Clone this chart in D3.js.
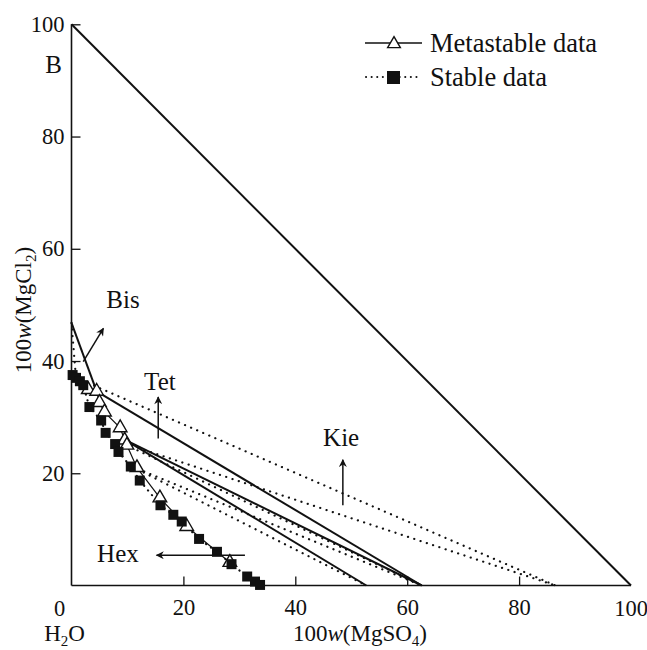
<!DOCTYPE html>
<html>
<head>
<meta charset="utf-8">
<script src="https://cdn.jsdelivr.net/npm/d3@7"></script>
<style>
  body { margin: 0; background: #fff; }
  svg, svg text { font-family: 'Liberation Serif', 'DejaVu Serif', serif; }
</style>
</head>
<body>
<div id="chart"></div>
<script>
// metastable solubility points (open triangles)
var metaX = [3.0, 4.5, 5.0, 5.9, 8.7, 9.5, 9.9, 11.7, 15.8, 20.6, 28.3];
var metaY = [34.9, 34.6, 32.6, 30.9, 28.1, 25.9, 25.0, 21.0, 15.6, 10.5, 4.1];

// stable solubility points (filled squares)
var stableX = [0.2, 0.8, 1.5, 2.1, 3.2, 5.3, 6.1, 7.8, 8.4, 10.6, 12.2, 15.9, 18.2, 19.7, 22.8, 26.0, 28.6, 31.4, 32.8, 33.7];
var stableY = [37.5, 37.0, 36.4, 35.7, 31.8, 29.4, 27.2, 25.2, 23.8, 21.2, 18.7, 14.3, 12.6, 11.4, 8.3, 6.0, 3.8, 1.6, 0.7, 0.1];

// tie lines [x1, y1, x2, y2]
var boundary = [[0, 100, 100, 0]];
var metastableTies = [[0, 46.8, 4.5, 34.6], [4.5, 34.6, 62.6, 0], [9.5, 26.0, 62.6, 0], [9.5, 26.0, 52.7, 0]];
var stableTies = [[0, 46.8, 0.8, 37.0], [0.8, 37.0, 86.5, 0], [8.6, 25.6, 86.5, 0], [8.6, 25.6, 62.6, 0],
  [10.8, 21.2, 62.6, 0], [10.8, 21.2, 52.7, 0]];

var tickValues = [20, 40, 60, 80, 100];

// phase arrows: label, label position, arrow start, arrow end
var phaseLabels = ['Bis', 'Tet', 'Kie', 'Hex'];
var labelPos = [[9.2, 49.4], [15.8, 34.8], [48.2, 24.9], [8.3, 4.2]];
var arrowFrom = [[2.1, 39.9], [15.5, 26.2], [48.5, 14.3], [31.0, 5.4]];
var arrowTo = [[5.7, 45.8], [15.5, 33.6], [48.5, 22.4], [15.2, 5.4]];

var width = 647, height = 650;
var serif = "'Liberation Serif', 'DejaVu Serif', serif";

var svg = d3.select('#chart').append('svg')
  .attr('width', width)
  .attr('height', height);

var defs = svg.append('defs');
defs.append('marker')
  .attr('id', 'head')
  .attr('viewBox', '0 0 10 10')
  .attr('refX', 9)
  .attr('refY', 5)
  .attr('markerWidth', 10)
  .attr('markerHeight', 8)
  .attr('markerUnits', 'userSpaceOnUse')
  .attr('orient', 'auto')
  .append('path')
  .attr('d', 'M0,0 L10,5 L0,10 L3,5 Z')
  .attr('fill', '#111');

var x = d3.scaleLinear().domain([0, 100]).range([71.5, 631]);
var y = d3.scaleLinear().domain([0, 100]).range([585.5, 24.3]);

// axes
var yAxis = d3.axisLeft(y).tickValues(tickValues).tickSizeInner(-9).tickSizeOuter(0).tickPadding(7);
var xAxis = d3.axisBottom(x).tickValues([20, 40, 60, 80]).tickSizeInner(-9).tickSizeOuter(0).tickPadding(14);

var gy = svg.append('g').attr('transform', 'translate(' + x(0) + ',0)').call(yAxis);
var gx = svg.append('g').attr('transform', 'translate(0,' + y(0) + ')').call(xAxis);

[gx, gy].forEach(function (g) {
  g.attr('font-family', serif).attr('font-size', 22.5);
  g.select('.domain').attr('stroke', '#111').attr('stroke-width', 1.6);
  g.selectAll('.tick line').attr('stroke', '#111').attr('stroke-width', 1.3);
  g.selectAll('.tick text')
    .attr('fill', '#111')
    .style('font-family', serif)
    .style('font-size', '22.5px');
});
gx.select('.domain').attr('d', 'M' + x(0) + ',0H' + x(100));
gy.select('.domain').attr('d', 'M0,' + y(0) + 'V' + y(100));

// x label "100" at the end and "0" at the origin
svg.append('text')
  .attr('x', x(100))
  .attr('y', y(0) + 30)
  .attr('text-anchor', 'middle')
  .style('font-size', '22.5px')
  .attr('fill', '#111')
  .text('100');
svg.append('text')
  .attr('x', x(0) - 12)
  .attr('y', y(0) + 30)
  .attr('text-anchor', 'middle')
  .style('font-size', '22.5px')
  .attr('fill', '#111')
  .text('0');

// axis titles
var h2o = svg.append('text')
  .attr('x', x(0) - 7)
  .attr('y', y(0) + 55)
  .attr('text-anchor', 'middle')
  .style('font-size', '23px')
  .attr('fill', '#111');
h2o.append('tspan').text('H');
h2o.append('tspan').attr('dy', 5).style('font-size', '15px').text('2');
h2o.append('tspan').attr('dy', -5).text('O');

var xt = svg.append('text')
  .attr('x', 360)
  .attr('y', y(0) + 55)
  .attr('text-anchor', 'middle')
  .style('font-size', '23px')
  .attr('fill', '#111');
xt.append('tspan').text('100');
xt.append('tspan').style('font-style', 'italic').text('w');
xt.append('tspan').text('(MgSO');
xt.append('tspan').attr('dy', 5).style('font-size', '15px').text('4');
xt.append('tspan').attr('dy', -5).text(')');

var yt = svg.append('text')
  .attr('transform', 'translate(31,310) rotate(-90)')
  .attr('text-anchor', 'middle')
  .style('font-size', '23px')
  .attr('fill', '#111');
yt.append('tspan').text('100');
yt.append('tspan').style('font-style', 'italic').text('w');
yt.append('tspan').text('(MgCl');
yt.append('tspan').attr('dy', 5).style('font-size', '15px').text('2');
yt.append('tspan').attr('dy', -5).text(')');

svg.append('text')
  .attr('x', x(0) - 18)
  .attr('y', y(100) + 49)
  .attr('text-anchor', 'middle')
  .style('font-size', '25px')
  .attr('fill', '#111')
  .text('B');

// tie lines
function drawTies(rows, dotted, sw) {
  svg.append('g').selectAll('line')
    .data(rows)
    .enter().append('line')
    .attr('x1', function (d) { return x(d[0]); })
    .attr('y1', function (d) { return y(d[1]); })
    .attr('x2', function (d) { return x(d[2]); })
    .attr('y2', function (d) { return y(d[3]); })
    .attr('stroke', '#111')
    .attr('stroke-width', sw)
    .attr('stroke-linecap', dotted ? 'round' : 'butt')
    .attr('stroke-dasharray', dotted ? '0.1,6.5' : null);
}
drawTies(boundary, false, 2);
drawTies(stableTies, true, 2.2);
drawTies(metastableTies, false, 2);

var metaPts = metaX.map(function (v, i) { return [v, metaY[i]]; });
var stablePts = stableX.map(function (v, i) { return [v, stableY[i]]; });

var line = d3.line()
  .x(function (d) { return x(d[0]); })
  .y(function (d) { return y(d[1]); });

svg.append('path')
  .datum(stablePts)
  .attr('d', line)
  .attr('fill', 'none')
  .attr('stroke', '#111')
  .attr('stroke-width', 2.2)
  .attr('stroke-linecap', 'round')
  .attr('stroke-dasharray', '0.1,6');

svg.append('path')
  .datum(metaPts)
  .attr('d', line)
  .attr('fill', 'none')
  .attr('stroke', '#111')
  .attr('stroke-width', 1.2);

// markers
svg.append('g').selectAll('path')
  .data(metaPts)
  .enter().append('path')
  .attr('transform', function (d) { return 'translate(' + x(d[0]) + ',' + y(d[1]) + ')'; })
  .attr('d', d3.symbol().type(d3.symbolTriangle).size(80))
  .attr('fill', '#fff')
  .attr('stroke', '#111')
  .attr('stroke-width', 1.4);

svg.append('g').selectAll('path')
  .data(stablePts)
  .enter().append('path')
  .attr('transform', function (d) { return 'translate(' + x(d[0]) + ',' + y(d[1]) + ')'; })
  .attr('d', d3.symbol().type(d3.symbolSquare).size(100))
  .attr('fill', '#111');

// phase arrows
svg.append('g').selectAll('line')
  .data(phaseLabels)
  .enter().append('line')
  .attr('x1', function (d, i) { return x(arrowFrom[i][0]); })
  .attr('y1', function (d, i) { return y(arrowFrom[i][1]); })
  .attr('x2', function (d, i) { return x(arrowTo[i][0]); })
  .attr('y2', function (d, i) { return y(arrowTo[i][1]); })
  .attr('stroke', '#111')
  .attr('stroke-width', 1.5)
  .attr('marker-end', 'url(#head)');

svg.append('g').selectAll('text')
  .data(phaseLabels)
  .enter().append('text')
  .attr('x', function (d, i) { return x(labelPos[i][0]); })
  .attr('y', function (d, i) { return y(labelPos[i][1]); })
  .attr('text-anchor', 'middle')
  .style('font-size', '25px')
  .attr('fill', '#111')
  .text(function (d) { return d; });

// legend
var legend = svg.append('g');
legend.append('line')
  .attr('x1', 365).attr('x2', 422).attr('y1', 43).attr('y2', 43)
  .attr('stroke', '#111').attr('stroke-width', 1.6);
legend.append('path')
  .attr('transform', 'translate(394,44)')
  .attr('d', d3.symbol().type(d3.symbolTriangle).size(70))
  .attr('fill', '#fff').attr('stroke', '#111').attr('stroke-width', 1.4);
legend.append('text')
  .attr('x', 430).attr('y', 52)
  .style('font-size', '26.5px').attr('fill', '#111')
  .text('Metastable data');

legend.append('line')
  .attr('x1', 366).attr('x2', 420).attr('y1', 77).attr('y2', 77)
  .attr('stroke', '#111').attr('stroke-width', 2)
  .attr('stroke-linecap', 'round')
  .attr('stroke-dasharray', '0.1,5.5');
legend.append('rect')
  .attr('x', 387).attr('y', 71).attr('width', 13).attr('height', 13)
  .attr('fill', '#111');
legend.append('text')
  .attr('x', 430).attr('y', 86)
  .style('font-size', '26.5px').attr('fill', '#111')
  .text('Stable data');
</script>
</body>
</html>
